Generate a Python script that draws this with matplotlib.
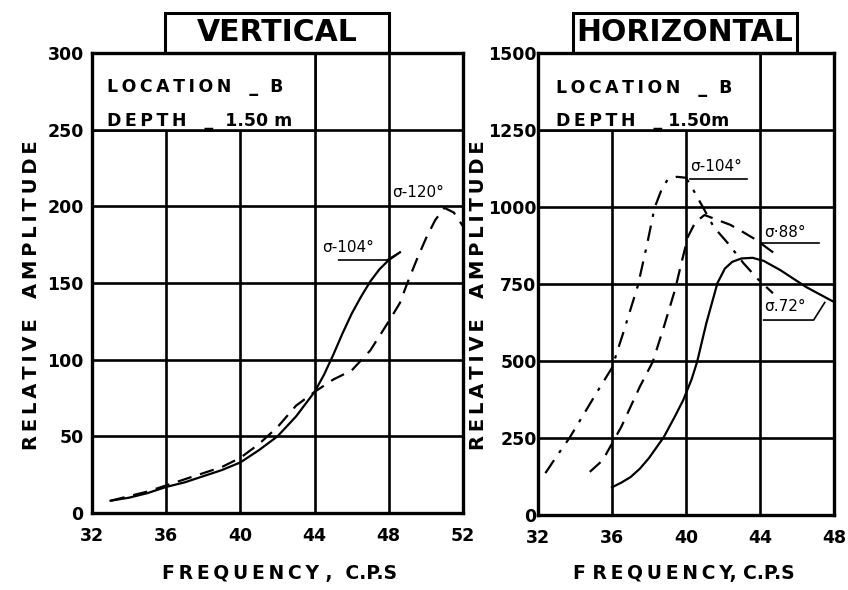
import matplotlib
matplotlib.use("Agg")
import matplotlib.pyplot as plt
from matplotlib.patches import Rectangle

# ---------------- data ----------------
v_xticks = [32, 36, 40, 44, 48, 52]
v_yticks = [0, 50, 100, 150, 200, 250, 300]
h_xticks = [32, 36, 40, 44, 48]
h_yticks = [0, 250, 500, 750, 1000, 1250, 1500]
v_xticklabels = ["32", "36", "40", "44", "48", "52"]
h_xticklabels = ["32", "36", "40", "44", "48"]

# Vertical, sigma = 104 deg (solid)
v104_x = [33, 34, 35, 36, 37, 38, 39, 40, 41, 42, 43, 44, 44.5, 45, 45.5, 46, 46.5, 47, 47.5, 48, 48.6]
v104_y = [8, 10, 13, 17, 20, 24, 28, 33, 41, 50, 63, 79, 90, 103, 117, 130, 141, 151, 159, 165, 170]
# Vertical, sigma = 120 deg (dashed)
v120_x = [33, 34, 35, 36, 37, 38, 39, 40, 41, 42, 43, 44, 45, 46, 47, 48, 48.6, 49, 49.5, 50, 50.5, 51, 51.5, 52]
v120_y = [8, 11, 14, 18, 22, 26, 30, 36, 45, 56, 70, 79, 87, 93, 106, 125, 137, 150, 165, 179, 191, 199, 196, 187]

# Horizontal, sigma = 104 deg (dash-dot)
h104_x = [32.4, 33, 33.7, 34.5, 35.3, 36, 36.6, 37.4, 37.9, 38.3, 38.7, 39.0, 39.5, 40.0, 40.4, 41.0, 41.5, 42.3, 43.1, 43.9, 44.7]
h104_y = [136, 190, 250, 330, 410, 478, 590, 745, 880, 997, 1060, 1088, 1098, 1095, 1055, 990, 935, 880, 818, 765, 720]
# Horizontal, sigma = 88 deg (dashed)
h88_x = [34.8, 35.5, 36.5, 37.5, 38.2, 38.8, 39.4, 39.7, 40.1, 40.5, 41.0, 41.7, 42.4, 43.1, 43.8, 44.9]
h88_y = [140, 178, 286, 416, 497, 610, 730, 805, 903, 950, 974, 958, 942, 918, 893, 844]
# Horizontal, sigma = 72 deg (solid)
h72_x = [36.0, 36.5, 37.0, 37.5, 38.0, 38.8, 39.4, 39.85, 40.3, 40.6, 41.1, 41.7, 42.1, 42.5, 43.0, 43.6, 44.2, 45.1, 46.5, 47.8, 48.0]
h72_y = [90, 105, 123, 150, 185, 253, 320, 373, 440, 497, 623, 753, 800, 822, 833, 835, 825, 795, 740, 698, 692]

TS = "\u2009"


def spaced(s):
    return TS.join(s)


W, H = 848, 590
fig = plt.figure(figsize=(W / 100, H / 100), dpi=100)
fig.patch.set_facecolor("white")

ax1 = fig.add_axes([92 / W, (H - 513) / H, 371 / W, 460 / H])
ax2 = fig.add_axes([538 / W, (H - 515) / H, 296 / W, 462 / H])

GRID_LW = 1.9
CURVE_LW = 1.6
tick_font = dict(fontsize=12.5, fontweight="bold", family="DejaVu Sans")


def style(ax, xt, xtl, yt, xlim, ylim, ypad):
    ax.set_xlim(*xlim)
    ax.set_ylim(*ylim)
    ax.set_xticks(xt)
    ax.set_xticklabels(xtl, **tick_font)
    ax.set_yticks(yt)
    ax.set_yticklabels([str(v) for v in yt], **tick_font)
    ax.tick_params(axis="both", length=0)
    ax.tick_params(axis="x", pad=10)
    ax.tick_params(axis="y", pad=ypad)
    ax.set_axisbelow(True)
    ax.grid(True, color="black", lw=GRID_LW)
    for s in ax.spines.values():
        s.set_linewidth(2.4)
        s.set_color("black")


style(ax1, v_xticks, v_xticklabels, v_yticks, (32, 52), (0, 300), 6)
style(ax2, h_xticks, h_xticklabels, h_yticks, (32, 48), (0, 1500), 1)

# location boxes (cover grid in the top-left area)
ax1.add_patch(Rectangle((32, 250), 12, 50, facecolor="white", edgecolor="black", lw=GRID_LW, zorder=1))
ax2.add_patch(Rectangle((32, 1250), 12, 250, facecolor="white", edgecolor="black", lw=GRID_LW, zorder=1))

box_font = dict(fontsize=12.5, fontweight="bold", family="DejaVu Sans", va="center", ha="left", zorder=3)
ax1.text(0.04, 0.925, spaced("LOCATION") + "   _  B", transform=ax1.transAxes, **box_font)
ax1.text(0.04, 0.853, spaced("DEPTH") + "   _  1.50 m", transform=ax1.transAxes, **box_font)
ax2.text(0.06, 0.925, spaced("LOCATION") + "   _  B", transform=ax2.transAxes, **box_font)
ax2.text(0.06, 0.853, spaced("DEPTH") + "   _ 1.50m", transform=ax2.transAxes, **box_font)

# title boxes
for ax, x0, x1, label in [(ax1, 0.197, 0.80, "VERTICAL"), (ax2, 0.118, 0.875, "HORIZONTAL")]:
    ax.add_patch(Rectangle((x0, 1.0), x1 - x0, 0.087, transform=ax.transAxes, fill=False,
                           edgecolor="black", lw=2.2, clip_on=False))
    ax.text((x0 + x1) / 2, 1.045, label, transform=ax.transAxes, ha="center", va="center",
            fontsize=21.5, fontweight="bold", family="DejaVu Sans")

# curves - vertical
ax1.plot(v104_x, v104_y, color="black", lw=CURVE_LW, zorder=2)
ax1.plot(v120_x, v120_y, color="black", lw=CURVE_LW, dashes=(6.5, 4), zorder=2)
# curves - horizontal
ax2.plot(h104_x, h104_y, color="black", lw=CURVE_LW, dashes=(7, 4, 1.5, 4), zorder=2)
ax2.plot(h88_x, h88_y, color="black", lw=CURVE_LW, dashes=(6.5, 4), zorder=2)
ax2.plot(h72_x, h72_y, color="black", lw=CURVE_LW, zorder=2)

# sigma labels
lab_font = dict(fontsize=11, family="DejaVu Sans", va="center", ha="left", zorder=3)
ax1.text(48.2, 209, "σ-120°", **lab_font)
ax1.text(44.4, 173, "σ-104°", **lab_font)
ax1.plot([45.3, 47.9, 48.6], [165, 165, 170], color="black", lw=1.2, zorder=3)

ax2.text(40.2, 1130, "σ-104°", **lab_font)
ax2.plot([40.2, 43.3], [1090, 1090], color="black", lw=1.2, zorder=3)
ax2.text(44.2, 918, "σ·88°", **lab_font)
ax2.plot([44.1, 47.2], [883, 883], color="black", lw=1.2, zorder=3)
ax2.text(44.2, 678, "σ.72°", **lab_font)
ax2.plot([44.2, 46.9, 47.5], [633, 633, 690], color="black", lw=1.2, zorder=3)

# axis labels
xl_font = dict(fontsize=13.5, fontweight="bold", family="DejaVu Sans", ha="center", va="center")
fig.text(280 / W, 1 - 573 / H, spaced("FREQUENCY") + " ,  " + "C.P.S", **xl_font)
fig.text(684 / W, 1 - 573 / H, "F " + spaced("REQUENCY") + ", C.P.S", **xl_font)
yl_font = dict(fontsize=14, fontweight="bold", family="DejaVu Sans", ha="center", va="center", rotation=90)
ylab = spaced("RELATIVE") + "   " + spaced("AMPLITUDE")
fig.text(32 / W, 1 - 295 / H, ylab, **yl_font)
fig.text(479 / W, 1 - 295 / H, ylab, **yl_font)

fig.savefig("out.png", dpi=100, facecolor="white")
